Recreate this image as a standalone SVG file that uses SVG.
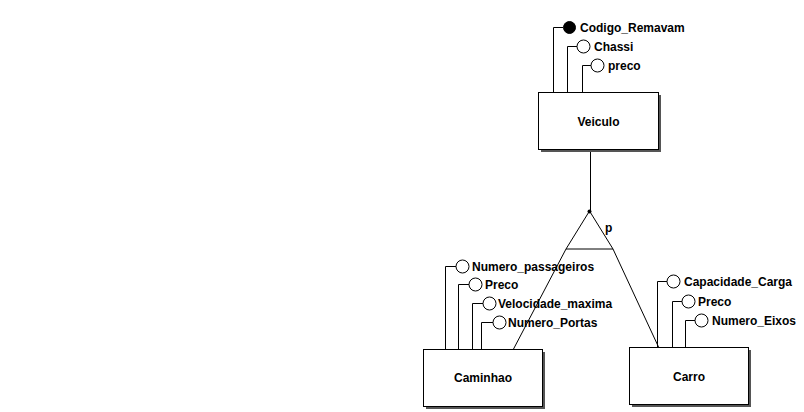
<svg xmlns="http://www.w3.org/2000/svg" width="804" height="412" viewBox="0 0 804 412">
<style>
.ln{stroke:#000;stroke-width:1;fill:none}
.box{fill:#fff;stroke:#000;stroke-width:1}
.sh{fill:#555}
.at{fill:#fff;stroke:#000;stroke-width:1}
.key{fill:#000;stroke:#000;stroke-width:1}
text{font-family:"Liberation Sans",Arial,sans-serif;font-weight:bold;font-size:12px;fill:#000}
.c{text-anchor:middle}
</style>
<rect width="804" height="412" fill="#fff"/>
<g id="connectors">
  <path class="ln" d="M590.5 151 V211"/>
  <path class="ln" d="M589.5 211 L566 249 H613 Z"/>
  <path class="ln" d="M566 249 L513 350"/>
  <path class="ln" d="M613 249 L659 348"/>
  <circle cx="589.5" cy="211.5" r="2" fill="#000"/>
  <text x="605" y="232">p</text>
</g>
<g id="Veiculo">
  <path class="ln" d="M553.5 93 V27.5 H563"/>
  <path class="ln" d="M567.5 93 V46.5 H577"/>
  <path class="ln" d="M582.5 93 V65.5 H591"/>
  <circle class="key" cx="569.5" cy="27.5" r="6"/>
  <circle class="at" cx="583.5" cy="46.5" r="6.5"/>
  <circle class="at" cx="597.5" cy="65.5" r="6.5"/>
  <text x="580" y="32">Codigo_Remavam</text>
  <text x="594" y="51">Chassi</text>
  <text x="608" y="70">preco</text>
  <rect class="sh" x="541" y="95" width="120" height="57"/>
  <rect class="box" x="538.5" y="92.5" width="120" height="57"/>
  <text class="c" x="598.5" y="126">Veiculo</text>
</g>
<g id="Caminhao">
  <path class="ln" d="M445.5 350 V266.5 H456"/>
  <path class="ln" d="M458.5 350 V284.5 H469"/>
  <path class="ln" d="M472.5 350 V303.5 H483"/>
  <path class="ln" d="M481.5 350 V322.5 H493"/>
  <circle class="at" cx="462.5" cy="266.5" r="6.5"/>
  <circle class="at" cx="475.5" cy="284.5" r="6.5"/>
  <circle class="at" cx="489.5" cy="303.5" r="6.5"/>
  <circle class="at" cx="499.5" cy="322.5" r="6.5"/>
  <text x="472" y="271">Numero_passageiros</text>
  <text x="485" y="289">Preco</text>
  <text x="498" y="308">Velocidade_maxima</text>
  <text x="508" y="327">Numero_Portas</text>
  <rect class="sh" x="426" y="352" width="119" height="57"/>
  <rect class="box" x="423.5" y="349.5" width="119" height="57"/>
  <text class="c" x="483" y="382">Caminhao</text>
</g>
<g id="Carro">
  <path class="ln" d="M657.5 348 V281.5 H667"/>
  <path class="ln" d="M672.5 348 V301.5 H682"/>
  <path class="ln" d="M685.5 348 V320.5 H695"/>
  <circle class="at" cx="673.5" cy="281.5" r="6.5"/>
  <circle class="at" cx="688.5" cy="301.5" r="6.5"/>
  <circle class="at" cx="701.5" cy="320.5" r="6.5"/>
  <text x="684" y="286">Capacidade_Carga</text>
  <text x="698" y="306">Preco</text>
  <text x="712" y="325">Numero_Eixos</text>
  <rect class="sh" x="632" y="350" width="119" height="57"/>
  <rect class="box" x="629.5" y="347.5" width="119" height="57"/>
  <text class="c" x="689" y="381">Carro</text>
</g>
</svg>
